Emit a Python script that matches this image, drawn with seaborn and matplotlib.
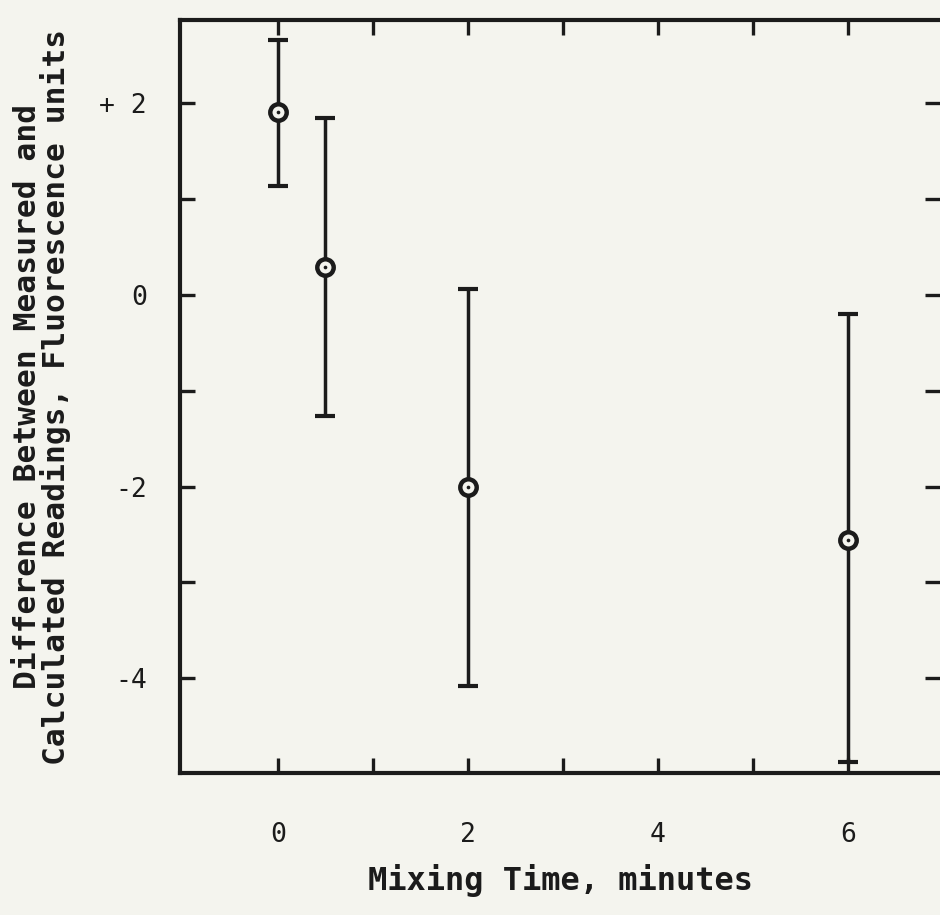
import matplotlib
matplotlib.use("Agg")
import matplotlib.pyplot as plt
import seaborn as sns
import pandas as pd

# Data
mixing_time = [0.0, 0.5, 2.0, 6.0]
difference = [1.91, 0.29, -2.0, -2.56]
err_upper = [2.66, 1.85, 0.06, -0.2]
err_lower = [1.14, -1.26, -4.08, -4.87]

x_ticks = [0, 1, 2, 3, 4, 5, 6]
x_tick_labels = ["0", "", "2", "", "4", "", "6"]
y_ticks = [-4, -3, -2, -1, 0, 1, 2]
y_tick_labels = ["-4", "", "-2", "", "0", "", "+ 2"]

df = pd.DataFrame({"time": mixing_time, "diff": difference,
                   "hi": err_upper, "lo": err_lower})

sns.set_theme(style="ticks")
bg = "#f4f4ee"
ink = "#1b1b1b"
plt.rcParams["font.family"] = ["DejaVu Sans Mono", "DejaVu Sans"]

fig = plt.figure(figsize=(9.4, 9.15), dpi=100, facecolor=bg)
ax = fig.add_axes([180 / 940, 1 - 773 / 915, 1 - 180 / 940, (773 - 20) / 915])
ax.set_facecolor(bg)

yerr = [[d - l for d, l in zip(df["diff"], df["lo"])],
        [h - d for d, h in zip(df["diff"], df["hi"])]]
ax.errorbar(df["time"], df["diff"], yerr=yerr, fmt="none", ecolor=ink,
            elinewidth=2.5, capsize=7, capthick=3, zorder=2)
sns.scatterplot(data=df, x="time", y="diff", ax=ax, marker="o", s=140,
                facecolor=bg, edgecolor=ink, linewidth=3.2, zorder=3, legend=False)
sns.scatterplot(data=df, x="time", y="diff", ax=ax, marker="o", s=7,
                color=ink, linewidth=0, zorder=4, legend=False)

ax.set_xlim(-1.03, 6.97)
ax.set_ylim(-4.99, 2.87)
ax.set_xticks(x_ticks)
ax.set_xticklabels(x_tick_labels)
ax.set_yticks(y_ticks)
ax.set_yticklabels(y_tick_labels)

ax.tick_params(axis="both", direction="in", length=11, width=2.4, color=ink,
               top=True, right=True, labelsize=19, labelcolor=ink)
ax.tick_params(axis="x", pad=35)
ax.tick_params(axis="y", pad=24)

for side in ["left", "bottom", "top"]:
    ax.spines[side].set_linewidth(3)
    ax.spines[side].set_color(ink)
ax.spines["right"].set_visible(False)

ax.set_xlabel("Mixing Time, minutes", fontsize=23, fontweight="bold",
              color=ink, labelpad=12)
ax.set_ylabel("Difference Between Measured and\nCalculated Readings, Fluorescence units",
              fontsize=22.5, fontweight="bold", color=ink, labelpad=20,
              linespacing=0.95)

fig.savefig("out.png", dpi=100, facecolor=bg)
